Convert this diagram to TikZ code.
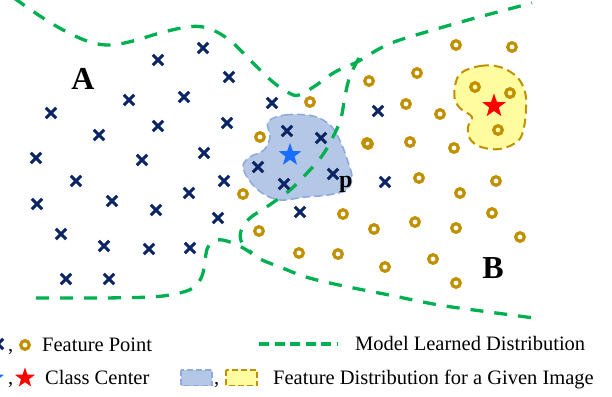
\documentclass[tikz,border=0pt]{standalone}
\usepackage{fontspec}
\setmainfont{Liberation Serif}
\usetikzlibrary{shapes.misc,shapes.geometric}
\definecolor{navyx}{HTML}{0B2463}
\definecolor{goldo}{HTML}{C09000}
\definecolor{greenl}{HTML}{00B050}
\definecolor{bluefill}{HTML}{B4C7E7}
\definecolor{blueedge}{HTML}{8EA9DB}
\definecolor{bluestar}{HTML}{1A6EFF}
\definecolor{yellowfill}{HTML}{FFFCA0}
\definecolor{yellowedge}{HTML}{BF9000}
\tikzset{
  xmark/.style={cross out, draw=navyx, line width=3pt, minimum size=7.4pt, inner sep=0pt},
  omark/.style={circle, draw=goldo, line width=3.2pt, minimum size=8.6pt, inner sep=0pt},
  starmark/.style={star, star points=5, star point ratio=2.5, inner sep=0pt, minimum size=#1},
  modelline/.style={draw=greenl, line width=3.3pt, dash pattern=on 13pt off 11pt},
  bluearea/.style={fill=bluefill, draw=blueedge, line width=1.6pt, dash pattern=on 8pt off 4pt},
  yellowarea/.style={fill=yellowfill, draw=yellowedge, line width=2pt, dash pattern=on 9pt off 5pt},
  legtext/.style={font=\fontsize{20.5}{24}\selectfont, anchor=base west, inner sep=0pt},
  biglabel/.style={font=\fontsize{32}{36}\selectfont\bfseries, anchor=base, inner sep=0pt},
}
\begin{document}
\begin{tikzpicture}[x=1pt,y=-1pt]
\useasboundingbox (0,0) rectangle (612,396);
% feature distributions
\path[bluearea] plot[smooth cycle, tension=0.6] coordinates {(268,122) (285,115) (313,116) (331,126) (341,143) (348,162) (352,178) (346,190) (328,195) (305,197) (280,200) (262,193) (249,180) (243,166) (250,157) (264,150) (270,137)};
\path[yellowarea] plot[smooth cycle, tension=0.6] coordinates {(461,73) (480,66) (500,67) (517,77) (525,92) (526,108) (524,127) (518,141) (500,149) (481,147) (470,139) (468,127) (472,117) (461,109) (455,100) (455,86)};
% model learned distribution
\draw[modelline] plot[smooth, tension=0.6] coordinates {(14,-2) (43,18) (67,32) (90,42) (110,45) (133,41) (160,33) (187,27) (203,27) (217,32) (233,43) (253,63) (273,82) (289,93) (299,95) (315,86) (335,72) (357,62) (389,44) (433,30) (479,17) (532,3)};
\draw[modelline] plot[smooth, tension=0.6] coordinates {(359,58) (350,76) (345,96) (341,118) (333,137) (322,156) (308,172) (290,190) (268,206) (250,218) (241,231) (242,243) (252,253)};
\draw[modelline] plot[smooth, tension=0.6] coordinates {(36,298) (100,298) (150,297) (175,294) (193,288) (202,276) (205,260) (208,247) (217,240) (230,242) (245,249) (260,259) (280,267) (306,277) (339,285) (389,295) (439,305) (489,312) (534,318)};
% class A features
\foreach \px/\py [count=\i] in {203/48,158/60,229/77,129/100,184/97,272/103,51/113,158/126,227/123,99/135,287/131,204/153,36/158,142/160,76/181,37/204,112/201,189/193,224/181,156/210,258/167,284/184,300/212,218/218,61/234,104/246,149/249,190/248,66/279,109/279,321/138,333/174,378/111,385/182}
  \node[xmark] (x\i) at (\px,\py) {};
% class B features
\foreach \px/\py [count=\i] in {456/45,512/47,417/73,369/81,310/102,406/104,440/114,475/87,510/93,498/130,368/144,410/142,454/148,260/137,367/143,243/194,343/214,419/178,496/181,460/193,492/213,374/229,415/222,456/228,520/237,338/254,385/267,433/259,456/283,259/231,299/253}
  \node[omark] (o\i) at (\px,\py) {};
% class centers
\node[starmark=24pt, fill=bluestar] (cA) at (290,155) {};
\node[starmark=25pt, fill=red] (cB) at (494,106) {};
% labels
\node[biglabel] (labA) at (83,89) {A};
\node[biglabel] (labB) at (493,278) {B};
\node[font=\fontsize{24}{28}\selectfont\bfseries, anchor=base west, inner sep=0pt] (labp) at (339,187) {p};
% legend
\node[xmark] (lx) at (-2,344) {};
\node[legtext] (lc1) at (8,351) {,};
\node[omark] (lo) at (25,345) {};
\node[legtext] (l1) at (42,351) {Feature Point};
\coordinate (ls) at (259,344);
\coordinate (le) at (338,344);
\draw[draw=greenl, line width=3.2pt, dash pattern=on 10pt off 5.5pt] (ls) -- (le);
\node[legtext] (l2) at (355,350.5) {Model Learned Distribution};
\node[starmark=21pt, fill=bluestar] (lbs) at (-6,378) {};
\node[legtext] (lc2) at (8,384) {,};
\node[starmark=21pt, fill=red] (lrs) at (25,378) {};
\node[legtext] (l3) at (45,384) {Class Center};
\path[bluearea, line width=1.3pt, dash pattern=on 6pt off 3pt] (181,370) rectangle (212,385.5);
\node[legtext] (lc3) at (214,384) {,};
\path[yellowarea, line width=1.6pt, dash pattern=on 6pt off 3pt] (226,370) rectangle (257,385.5);
\node[legtext] (l4) at (273,384) {Feature Distribution for a Given Image};
\end{tikzpicture}
\end{document}
